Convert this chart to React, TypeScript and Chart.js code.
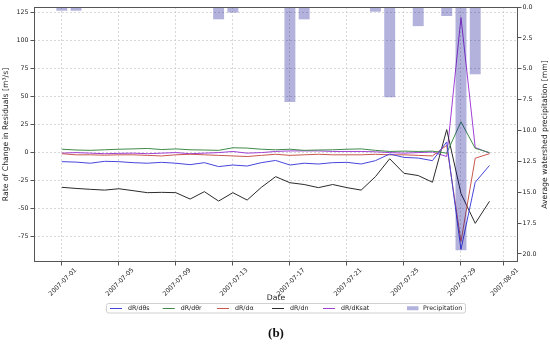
import { useEffect, useRef } from 'react';
import { Chart, registerables } from 'chart.js';

Chart.register(...registerables);

const dates = [
  '2007-07-01', '2007-07-02', '2007-07-03', '2007-07-04', '2007-07-05', '2007-07-06', '2007-07-07', '2007-07-08',
  '2007-07-09', '2007-07-10', '2007-07-11', '2007-07-12', '2007-07-13', '2007-07-14', '2007-07-15', '2007-07-16',
  '2007-07-17', '2007-07-18', '2007-07-19', '2007-07-20', '2007-07-21', '2007-07-22', '2007-07-23', '2007-07-24',
  '2007-07-25', '2007-07-26', '2007-07-27', '2007-07-28', '2007-07-29', '2007-07-30', '2007-07-31',
];

const dRdThetaS = [-8.6, -9, -10, -8.3, -8.6, -9.5, -10, -9.2, -10, -11.3, -9.5, -13, -11.6, -12.5, -9.5, -7.5,
  -11.6, -10, -10.7, -9.5, -9.2, -10.7, -7.7, -1.8, -4.8, -5.4, -7.7, 9, -87, -27, -12];
const dRdThetaR = [2.5, 1.8, 1.5, 2, 2.5, 2.8, 3.2, 2.2, 2.8, 2, 1.8, 1.5, 3.8, 3.5, 2.5, 2, 2.5, 1.5, 1.8, 2, 2.5,
  2.8, 1.5, 0.5, 0.8, 0.5, 0.8, -1, 27, 3.3, -0.5];
const dRdAlpha = [-1.5, -2.5, -2.5, -2.8, -2.5, -2.5, -3, -3.5, -2.5, -2, -2.5, -3, -3.5, -4, -3, -2, -3, -2.5, -2,
  -2.5, -2.5, -2.5, -2, -2.5, -2.5, -3, -3.5, 6, -80, -5.5, -1.5];
const dRdN = [-31.5, -32.5, -33.3, -34, -32.8, -34.5, -36.3, -36, -36.3, -42, -35.4, -43.8, -36.3, -42.9, -31.5, -22,
  -27.4, -29, -31.8, -29, -31.8, -34, -22, -6, -19, -21, -27, 20, -37, -63.7, -44];
const dRdKsat = [-1, -0.5, -1, -1.5, -1.2, -1, -1.5, -1, -0.5, -1.5, -1, -0.5, 0.5, -1, -0.5, 0.5, 1, 1, 1, 0.5, 0.5,
  0.5, 0.2, -0.5, -1, -0.5, 0, -4, 120, 4, -1];
const precipitation = [0.3, 0.3, 0, 0, 0, 0, 0, 0, 0, 0, 0, 1.0, 0.45, 0, 0, 0, 7.7, 1.0, 0, 0, 0, 0, 0.38, 7.3,
  0.08, 1.55, 0.08, 0.73, 19.7, 5.45, 0];

const seriesLabels = ['dR/dθs', 'dR/dθr', 'dR/dα', 'dR/dn', 'dR/dKsat', 'Precipitation'];
const xTickLabels = ['2007-07-01', '2007-07-05', '2007-07-09', '2007-07-13', '2007-07-17', '2007-07-21',
  '2007-07-25', '2007-07-29', '2007-08-01'];
const leftTicks = [-75, -50, -25, 0, 25, 50, 75, 100, 125];
const rightTicks = [0, 2.5, 5, 7.5, 10, 12.5, 15, 17.5, 20];

const DAY = 86400000;
const t0 = Date.parse(dates[0]);
const toDay = (d: string) => (Date.parse(d) - t0) / DAY;
const xs = dates.map(toDay);
const pts = (vals: number[]) => vals.map((v, i) => ({ x: xs[i], y: v }));

const FONT = 'DejaVu Sans';
// legend layout (handle start x of each entry)
const LEGEND_X = [110, 162.7, 217, 272, 323, 407];
const LEGEND_BOX = { left: 106, right: 465, top: 303.5, bottom: 313 };

const decorPlugin = {
  id: 'decor',
  afterDraw(chart: any) {
    const { ctx, chartArea } = chart;
    ctx.save();
    ctx.strokeStyle = '#555';
    ctx.lineWidth = 1;
    ctx.strokeRect(chartArea.left + 0.5, chartArea.top + 0.5, chartArea.right - chartArea.left - 1, chartArea.bottom - chartArea.top - 1);

    // legend
    const cy = (LEGEND_BOX.top + LEGEND_BOX.bottom) / 2;
    ctx.fillStyle = 'rgba(255,255,255,0.8)';
    ctx.strokeStyle = '#d0d0d0';
    ctx.lineWidth = 1;
    ctx.beginPath();
    ctx.roundRect(LEGEND_BOX.left + 0.5, LEGEND_BOX.top, LEGEND_BOX.right - LEGEND_BOX.left, LEGEND_BOX.bottom - LEGEND_BOX.top, 2);
    ctx.fill();
    ctx.stroke();
    ctx.font = `6.3px ${FONT}`;
    ctx.textAlign = 'left';
    ctx.textBaseline = 'middle';
    chart.data.datasets.forEach((ds: any, i: number) => {
      const x = LEGEND_X[i];
      if (ds.type === 'bar') {
        ctx.fillStyle = ds.backgroundColor;
        ctx.fillRect(x, cy - 2, 11.5, 4);
      } else {
        ctx.strokeStyle = ds.borderColor;
        ctx.lineWidth = 1;
        ctx.beginPath();
        ctx.moveTo(x, Math.round(cy) + 0.5);
        ctx.lineTo(x + 12, Math.round(cy) + 0.5);
        ctx.stroke();
      }
      ctx.fillStyle = '#222';
      ctx.fillText(ds.label, x + (ds.type === 'bar' ? 16 : 18), cy);
    });

    // right axis title (reads bottom-to-top)
    ctx.fillStyle = '#222';
    ctx.font = `7.7px ${FONT}`;
    ctx.textAlign = 'center';
    ctx.textBaseline = 'middle';
    ctx.translate(545, (chartArea.top + chartArea.bottom) / 2);
    ctx.rotate(-Math.PI / 2);
    ctx.fillText('Average watershed precipitation [mm]', 0, 0);
    ctx.restore();

    ctx.save();
    ctx.fillStyle = '#111';
    ctx.font = `bold 13px "Liberation Serif"`;
    ctx.textAlign = 'center';
    ctx.textBaseline = 'middle';
    ctx.fillText('(b)', 276, 334);
    ctx.restore();
  },
};

export default function App() {
  const ref = useRef<HTMLCanvasElement>(null);

  useEffect(() => {
    if (!ref.current) return;
    const lineDs = (label: string, vals: number[], color: string) => ({
      type: 'line' as const,
      label,
      data: pts(vals),
      borderColor: color,
      backgroundColor: color,
      borderWidth: 1,
      pointRadius: 0,
      yAxisID: 'y',
      order: 1,
    });
    const chart = new Chart(ref.current, {
      type: 'line',
      data: {
        datasets: [
          lineDs(seriesLabels[0], dRdThetaS, '#4646dc'),
          lineDs(seriesLabels[1], dRdThetaR, '#3f8a4a'),
          lineDs(seriesLabels[2], dRdAlpha, '#c8584e'),
          lineDs(seriesLabels[3], dRdN, '#2b2b2b'),
          lineDs(seriesLabels[4], dRdKsat, '#a040d4'),
          {
            type: 'bar' as const,
            label: seriesLabels[5],
            data: pts(precipitation),
            backgroundColor: 'rgba(0,0,139,0.3)',
            borderWidth: 0,
            yAxisID: 'y2',
            barPercentage: 0.96,
            categoryPercentage: 0.8,
            order: 0,
          } as any,
        ],
      },
      options: {
        responsive: false,
        animation: false,
        devicePixelRatio: 1,
        layout: { padding: { top: 7, left: 0, right: 0, bottom: 0 } },
        plugins: {
          tooltip: { enabled: false },
          legend: { display: false },
        },
        scales: {
          x: {
            type: 'linear',
            offset: false,
            min: -1.95,
            max: 32,
            afterFit: (s: any) => { s.height = 82; },
            afterBuildTicks: (s: any) => { s.ticks = xTickLabels.map((d) => ({ value: toDay(d) })); },
            ticks: {
              autoSkip: false,
              minRotation: 45,
              maxRotation: 45,
              labelOffset: 14,
              padding: 1,
              color: '#222',
              font: { family: FONT, size: 6.3 },
              callback: (v: any) => {
                const i = xTickLabels.findIndex((d) => toDay(d) === v);
                return i >= 0 ? xTickLabels[i] : '';
              },
            },
            grid: { offset: false, color: '#cfcfcf', lineWidth: 0.8, tickLength: 3.5, tickColor: '#555', tickWidth: 1 },
            border: { display: false, dash: [2, 2] },
            title: { display: true, text: 'Date', color: '#222', font: { family: FONT, size: 7.7 }, padding: { top: 0, bottom: 41.4 } },
          },
          y: {
            type: 'linear',
            position: 'left',
            min: -98.2,
            max: 129.5,
            afterFit: (s: any) => { s.width = 34; },
            afterBuildTicks: (s: any) => { s.ticks = leftTicks.map((v) => ({ value: v })); },
            ticks: { color: '#222', padding: 2, font: { family: FONT, size: 6.3 } },
            grid: { color: '#cfcfcf', lineWidth: 0.8, tickLength: 3.5, tickColor: '#555', tickWidth: 1 },
            border: { display: false, dash: [2, 2] },
            title: { display: true, text: 'Rate of Change in Residuals [m³/s]', color: '#222', font: { family: FONT, size: 7.7 }, padding: { top: 1.4, bottom: 0 } },
          },
          y2: {
            type: 'linear',
            position: 'right',
            reverse: true,
            min: 0,
            max: 20.65,
            afterFit: (s: any) => { s.width = 32; },
            afterBuildTicks: (s: any) => { s.ticks = rightTicks.map((v) => ({ value: v })); },
            ticks: { color: '#222', padding: 1, font: { family: FONT, size: 6.3 }, callback: (v: any) => Number(v).toFixed(1) },
            grid: { drawOnChartArea: false, tickLength: 3.5, tickColor: '#555', tickWidth: 1 },
            border: { display: false },
            title: { display: false },
          },
        },
      },
      plugins: [decorPlugin],
    } as any);
    return () => chart.destroy();
  }, []);

  return (
    <div style={{ position: 'absolute', left: 0, top: 0, width: 550, height: 344, background: '#fff' }}>
      <canvas ref={ref} width={550} height={344} style={{ width: 550, height: 344, display: 'block' }} />
    </div>
  );
}
